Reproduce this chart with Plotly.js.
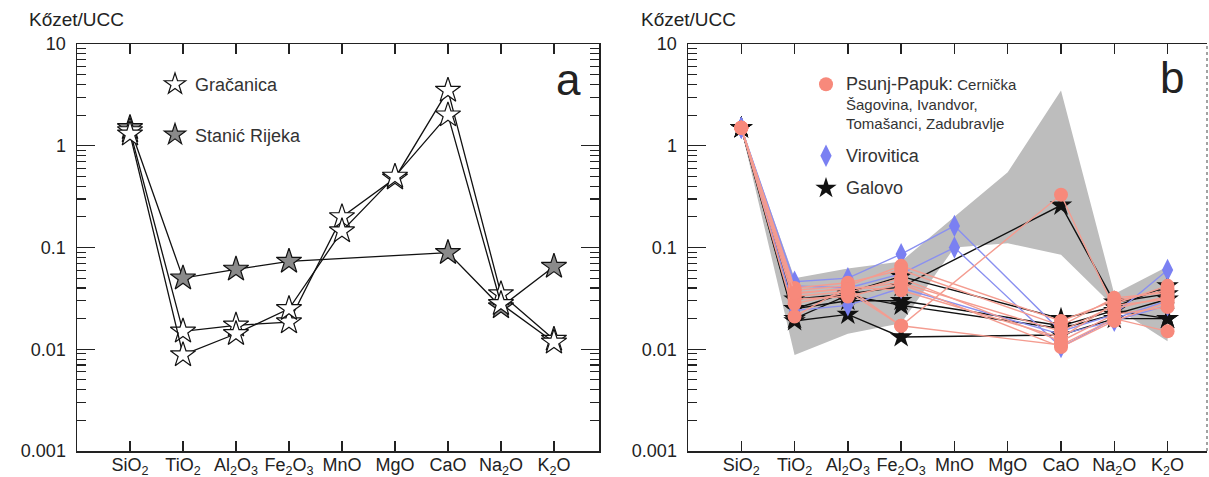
<!DOCTYPE html>
<html><head><meta charset="utf-8">
<script src="https://cdn.plot.ly/plotly-3.0.1.min.js"></script>
<style>body{margin:0;background:#fff}#chart{width:1209px;height:477px}</style>
</head><body><div id="chart"></div>
<script>
// ---- categories & tick labels ----
const categories = ['SiO2','TiO2','Al2O3','Fe2O3','MnO','MgO','CaO','Na2O','K2O'];
const tickLabels = ['SiO<sub>2</sub>','TiO<sub>2</sub>','Al<sub>2</sub>O<sub>3</sub>','Fe<sub>2</sub>O<sub>3</sub>','MnO','MgO','CaO','Na<sub>2</sub>O','K<sub>2</sub>O'];
const yTickVals = [0.001, 0.01, 0.1, 1, 10];
const yTickText = ['0.001', '0.01', '0.1', '1', '10'];

// ---- panel a ----
const gracanica1 = [1.4, 0.015, 0.0172, 0.0185, 0.2, 0.48, 3.5, 0.035, 0.0125];
const gracanica2 = [1.3, 0.0088, 0.0142, 0.025, 0.145, 0.5, 2.0, 0.028, 0.0117];
const stanicRijeka = [1.5, 0.05, 0.061, 0.073, null, null, 0.089, 0.026, 0.065];

// ---- panel b ----
const envUpper = [1.5, 0.05, 0.062, 0.073, 0.2, 0.55, 3.5, 0.035, 0.065];
const envLower = [1.45, 0.0088, 0.0142, 0.018, 0.1, 0.11, 0.085, 0.026, 0.012];

const galovo1 = [1.5, 0.025, 0.036, 0.052, null, null, 0.020, 0.026, 0.042];
const galovo2 = [1.5, 0.031, 0.035, 0.041, null, null, 0.260, 0.029, 0.035];
const galovo3 = [1.5, 0.019, 0.022, 0.0132, null, null, 0.0138, 0.020, 0.020];
const galovo4 = [1.5, 0.025, 0.030, 0.030, null, null, 0.017, 0.024, 0.020];
const galovo5 = [1.5, 0.020, 0.034, 0.027, null, null, 0.016, 0.022, 0.031];

const virovitica1 = [1.5, 0.046, 0.050, 0.086, 0.163, null, 0.015, 0.022, 0.060];
const virovitica2 = [1.5, 0.042, 0.040, 0.055, 0.100, null, 0.0105, 0.020, 0.030];
const virovitica3 = [1.5, 0.024, 0.027, 0.040, null, null, 0.014, 0.019, 0.027];

const psunj1 = [1.5, 0.038, 0.042, 0.066, null, null, 0.019, 0.030, 0.038];
const psunj2 = [1.5, 0.035, 0.040, 0.017, null, null, 0.330, 0.025, 0.033];
const psunj3 = [1.5, 0.033, 0.037, 0.017, null, null, 0.011, 0.020, 0.015];
const psunj4 = [1.5, 0.031, 0.033, 0.044, null, null, 0.0105, 0.019, 0.029];
const psunj5 = [1.5, 0.021, 0.041, 0.038, null, null, 0.013, 0.028, 0.042];
const psunj6 = [1.5, 0.040, 0.045, 0.060, null, null, 0.017, 0.032, 0.036];
const psunj7 = [1.5, 0.028, 0.036, 0.050, null, null, 0.012, 0.022, 0.026];
const psunj8 = [1.5, 0.036, 0.039, 0.045, null, null, 0.015, 0.027, 0.031];

// ---- styles ----
const FONT = 'Liberation Sans, Arial, sans-serif';
const PINK = '#F7897B', PINK_LINE = '#F49C90';
const BLUE = '#7A80F2', BLUE_LINE = '#8A90F0';
const BLACK = '#111111';

const traces = [];
function series(y, xa, ya, marker, lineColor, lw) {
  traces.push({x: categories, y: y, xaxis: xa, yaxis: ya, type: 'scatter', mode: 'lines+markers',
    connectgaps: true, showlegend: false, hoverinfo: 'skip',
    line: {color: lineColor, width: lw}, marker: marker});
}
const openStar = {symbol: 'star', size: 19, color: '#ffffff', line: {color: BLACK, width: 1.2}};
const greyStar = {symbol: 'star', size: 19, color: '#8a8a8a', line: {color: BLACK, width: 1.2}};
series(stanicRijeka, 'x', 'y', greyStar, BLACK, 1.3);
series(gracanica1, 'x', 'y', openStar, BLACK, 1.3);
series(gracanica2, 'x', 'y', openStar, BLACK, 1.3);

// envelope
traces.push({x: categories.concat(categories.slice().reverse()), y: envUpper.concat(envLower.slice().reverse()),
  xaxis: 'x2', yaxis: 'y2', type: 'scatter', mode: 'lines', fill: 'toself', fillcolor: '#BDBDBD',
  line: {width: 0, color: 'rgba(0,0,0,0)'}, showlegend: false, hoverinfo: 'skip'});

const blackStar = {symbol: 'star', size: 17, color: BLACK, line: {width: 0}};
const blueDia = {symbol: 'diamond-tall', size: 16, color: BLUE, line: {width: 0}};
const pinkDot = {symbol: 'circle', size: 14, color: PINK, line: {width: 0}};
[galovo1, galovo2, galovo3, galovo4, galovo5].forEach(s => series(s, 'x2', 'y2', blackStar, BLACK, 1.4));
[virovitica1, virovitica2, virovitica3].forEach(s => series(s, 'x2', 'y2', blueDia, BLUE_LINE, 1.4));
[psunj1, psunj2, psunj3, psunj4, psunj5, psunj6, psunj7, psunj8].forEach(s => series(s, 'x2', 'y2', pinkDot, PINK_LINE, 1.4));

// legend entries
function legendItem(name, marker, xa, ya, legend, group) {
  traces.push({x: [null], y: [null], xaxis: xa, yaxis: ya, type: 'scatter', mode: 'markers', name: name,
    marker: marker, legend: legend, legendgroup: group, showlegend: true});
}
legendItem('Gračanica', openStar, 'x', 'y', 'legend', 'g1');
legendItem('Stanić Rijeka', greyStar, 'x', 'y', 'legend', 'g2');
legendItem('<span style="font-size:18px">Psunj-Papuk:</span> Cernička<br>Šagovina, Ivandvor,<br>Tomašanci, Zadubravlje', pinkDot, 'x2', 'y2', 'legend2', 'h1');
legendItem('<span style="font-size:18px">Virovitica</span>', blueDia, 'x2', 'y2', 'legend2', 'h2');
legendItem('<span style="font-size:18px">Galovo</span>', blackStar, 'x2', 'y2', 'legend2', 'h3');

const minorVals = [];
[0.001, 0.01, 0.1, 1].forEach(d => { for (let k = 2; k <= 9; k++) minorVals.push(+(k * d).toPrecision(3)); });

function xAxis(domain, range, anchor) {
  return {domain: domain, anchor: anchor, type: 'category', categoryorder: 'array', categoryarray: categories,
    range: range, tickmode: 'array', tickvals: categories, ticktext: tickLabels,
    ticks: 'inside', ticklen: 10, tickwidth: 1.3, tickcolor: '#222', mirror: 'ticks',
    showline: true, linecolor: '#222', linewidth: 1.5, showgrid: false, zeroline: false,
    tickfont: {family: FONT, size: 18, color: '#222'}, ticklabelstandoff: -3, fixedrange: true};
}
function yAxis(domain, anchor, mirror) {
  return {domain: domain, anchor: anchor, type: 'log', range: [-3, 1],
    tickmode: 'array', tickvals: yTickVals, ticktext: yTickText,
    ticks: 'inside', ticklen: 18, tickwidth: 1.3, tickcolor: '#222', mirror: mirror,
    minor: {tickmode: 'array', tickvals: minorVals, ticks: 'inside', ticklen: 9, tickwidth: 1.1, tickcolor: '#222', showgrid: false},
    showline: true, linecolor: '#222', linewidth: 1.5, showgrid: false, zeroline: false,
    tickfont: {family: FONT, size: 18, color: '#222'}, ticklabelstandoff: 6, fixedrange: true};
}
const W = 1209, H = 477;
const yDom = [26 / H, 1 - 44 / H];
const layout = {
  width: W, height: H, margin: {l: 0, r: 0, t: 0, b: 0},
  paper_bgcolor: '#ffffff', plot_bgcolor: 'rgba(0,0,0,0)',
  font: {family: FONT, color: '#222'},
  xaxis: xAxis([77 / W, 599 / W], [-1, 8.85], 'y'),
  yaxis: yAxis(yDom, 'x', 'ticks'),
  xaxis2: xAxis([688 / W, 1207 / W], [-1, 8.74], 'y2'),
  yaxis2: yAxis(yDom, 'x2', false),
  yaxis3: {overlaying: 'y2', side: 'right', anchor: 'x2', type: 'log', range: [-3, 1],
    tickmode: 'array', tickvals: yTickVals, showticklabels: false, ticks: 'inside', ticklen: 9,
    tickwidth: 1.3, tickcolor: '#333',
    minor: {tickmode: 'array', tickvals: minorVals, ticks: 'inside', ticklen: 4, tickwidth: 1, tickcolor: '#777', showgrid: false},
    showline: false, showgrid: false, zeroline: false, fixedrange: true},
  shapes: [{type: 'line', xref: 'x2 domain', yref: 'y2 domain', x0: 1, x1: 1, y0: 0, y1: 1,
    line: {color: '#666', width: 1.2, dash: 'dot'}}],
  legend: {x: 155 / W, y: 1 - 66 / H, xanchor: 'left', yanchor: 'top', bgcolor: 'rgba(0,0,0,0)',
    font: {family: FONT, size: 18, color: '#333'}, tracegroupgap: 24, traceorder: 'grouped', itemsizing: 'trace'},
  legend2: {x: 806 / W, y: 1 - 68 / H, xanchor: 'left', yanchor: 'top', bgcolor: 'rgba(0,0,0,0)', valign: 'top',
    font: {family: FONT, size: 15, color: '#333'}, tracegroupgap: 10, traceorder: 'grouped', itemsizing: 'trace'},
  annotations: [
    {xref: 'paper', yref: 'paper', x: 27 / W, y: 1 - 19 / H, xanchor: 'left', yanchor: 'middle', showarrow: false,
      text: 'Kőzet/UCC', font: {family: FONT, size: 19, color: '#222'}},
    {xref: 'paper', yref: 'paper', x: 639 / W, y: 1 - 19 / H, xanchor: 'left', yanchor: 'middle', showarrow: false,
      text: 'Kőzet/UCC', font: {family: FONT, size: 19, color: '#222'}},
    {xref: 'paper', yref: 'paper', x: 568 / W, y: 1 - 79 / H, xanchor: 'center', yanchor: 'middle', showarrow: false,
      text: 'a', font: {family: FONT, size: 44, color: '#222'}},
    {xref: 'paper', yref: 'paper', x: 1172 / W, y: 1 - 77 / H, xanchor: 'center', yanchor: 'middle', showarrow: false,
      text: 'b', font: {family: FONT, size: 44, color: '#222'}}
  ]
};
Plotly.newPlot('chart', traces, layout, {displayModeBar: false, staticPlot: true});
</script></body></html>
